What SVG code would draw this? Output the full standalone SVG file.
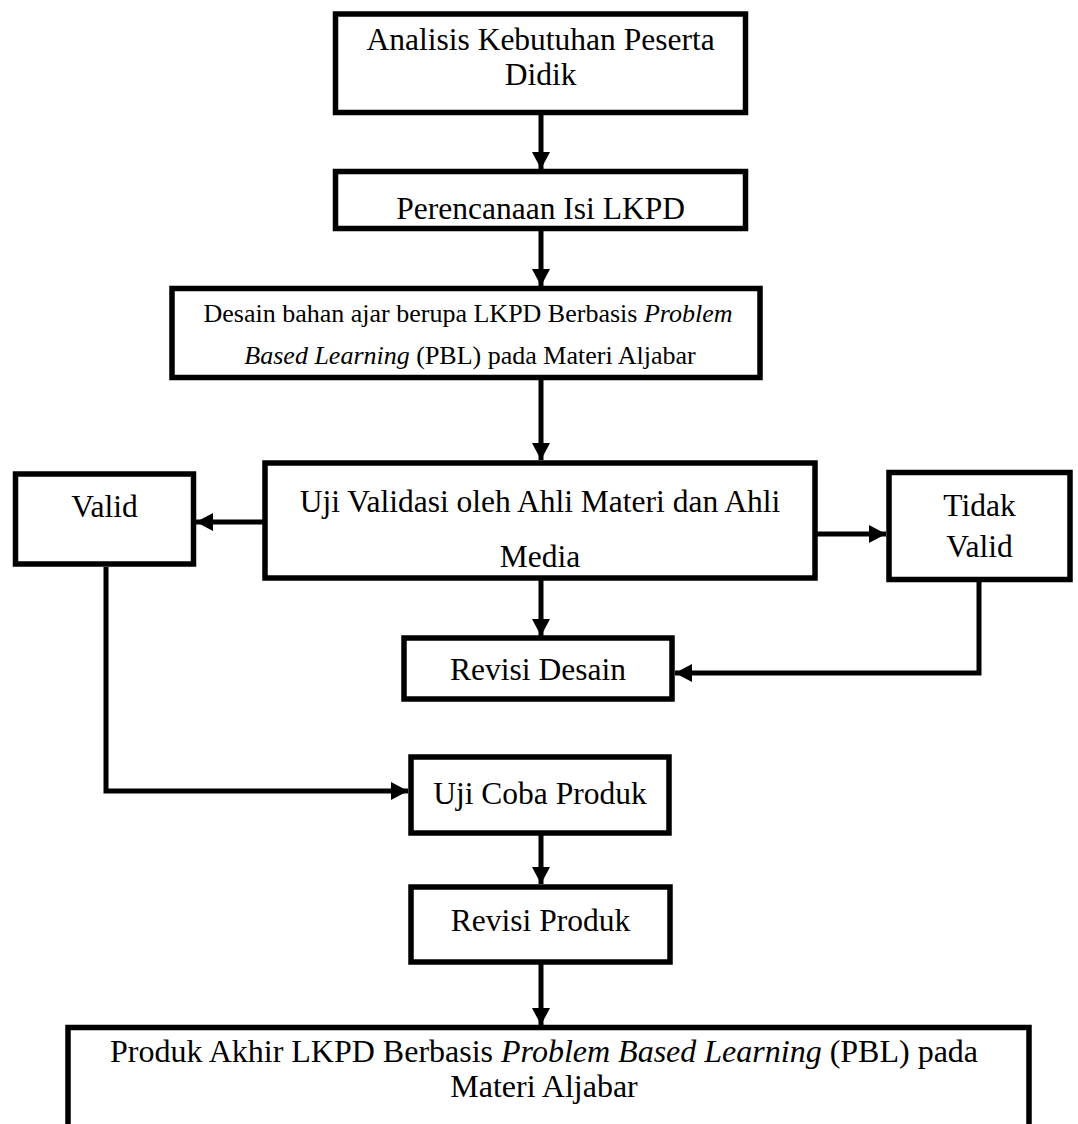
<svg xmlns="http://www.w3.org/2000/svg" width="1078" height="1124" viewBox="0 0 1078 1124">
<defs>
<style>
.box{fill:#fff;stroke:#000;stroke-width:5.5}
.t{font-family:"Liberation Serif","Times New Roman",serif;font-size:31.5px;fill:#000;text-anchor:middle}
.s{font-size:26px}
.f{font-size:32px}
.c{fill:none;stroke:#000;stroke-width:5}
.i{font-style:italic}
</style>
<marker id="ah" markerUnits="userSpaceOnUse" markerWidth="18" markerHeight="20" refX="17" refY="10" orient="auto">
<path d="M0,1 L17,10 L0,19 Z" fill="#000"/>
</marker>
</defs>
<rect width="1078" height="1124" fill="#fff"/>
<g id="connectors">
<line class="c" x1="541" y1="115" x2="541" y2="169" marker-end="url(#ah)"/>
<line class="c" x1="541" y1="231" x2="541" y2="286" marker-end="url(#ah)"/>
<line class="c" x1="541" y1="380" x2="541" y2="460" marker-end="url(#ah)"/>
<line class="c" x1="265" y1="522" x2="196" y2="522" marker-end="url(#ah)"/>
<line class="c" x1="815" y1="534" x2="886" y2="534" marker-end="url(#ah)"/>
<line class="c" x1="541" y1="580" x2="541" y2="636" marker-end="url(#ah)"/>
<polyline class="c" points="979,581 979,673 675,673" marker-end="url(#ah)"/>
<polyline class="c" points="106,567 106,791 408,791" marker-end="url(#ah)"/>
<line class="c" x1="541" y1="835" x2="541" y2="884" marker-end="url(#ah)"/>
<line class="c" x1="541" y1="964" x2="541" y2="1025" marker-end="url(#ah)"/>
</g>
<g id="n1">
<rect class="box" x="335.5" y="14" width="410" height="98.5"/>
<text class="t" x="540.6" y="50">Analisis Kebutuhan Peserta</text>
<text class="t" x="540.6" y="85">Didik</text>
</g>
<g id="n2">
<rect class="box" x="335.5" y="171.5" width="410" height="57"/>
<text class="t" x="540.6" y="219">Perencanaan Isi LKPD</text>
</g>
<g id="n3">
<rect class="box" x="172" y="288.5" width="588" height="89"/>
<text class="t s" x="468" y="322">Desain bahan ajar berupa LKPD Berbasis <tspan class="i">Problem</tspan></text>
<text class="t s" x="470" y="364"><tspan class="i">Based Learning</tspan> (PBL) pada Materi Aljabar</text>
</g>
<g id="n4">
<rect class="box" x="265" y="463" width="550" height="115"/>
<text class="t" x="540" y="512">Uji Validasi oleh Ahli Materi dan Ahli</text>
<text class="t" x="540" y="567">Media</text>
</g>
<g id="n5">
<rect class="box" x="15.5" y="474" width="178" height="90"/>
<text class="t" x="104.5" y="517">Valid</text>
</g>
<g id="n6">
<rect class="box" x="889" y="472.5" width="181" height="107"/>
<text class="t" x="979.5" y="516">Tidak</text>
<text class="t" x="979.5" y="557">Valid</text>
</g>
<g id="n7">
<rect class="box" x="404" y="638" width="268" height="61"/>
<text class="t" x="538" y="680">Revisi Desain</text>
</g>
<g id="n8">
<rect class="box" x="411" y="757" width="258" height="76"/>
<text class="t" x="540" y="804">Uji Coba Produk</text>
</g>
<g id="n9">
<rect class="box" x="411" y="887" width="259" height="75"/>
<text class="t" x="540.5" y="931">Revisi Produk</text>
</g>
<g id="n10">
<rect class="box" x="68" y="1027.5" width="961" height="130"/>
<text class="t f" x="544" y="1062">Produk Akhir LKPD Berbasis <tspan class="i">Problem Based Learning</tspan> (PBL) pada</text>
<text class="t f" x="544" y="1097">Materi Aljabar</text>
</g>
</svg>
